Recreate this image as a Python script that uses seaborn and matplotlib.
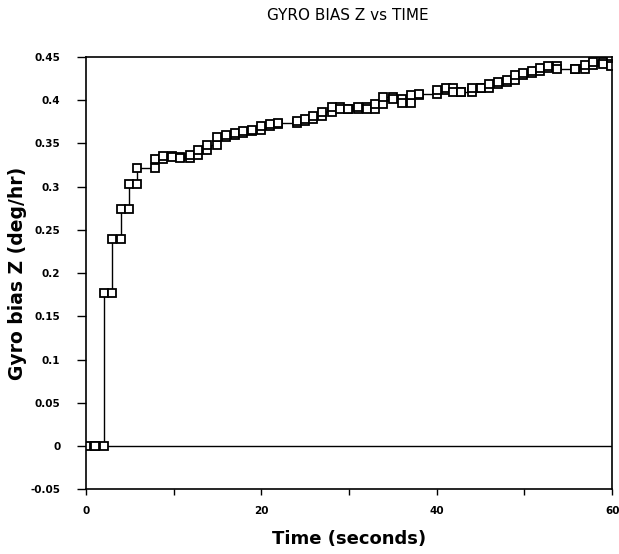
import numpy as np
import pandas as pd
import matplotlib
matplotlib.use("Agg")
import matplotlib.pyplot as plt
import seaborn as sns
from matplotlib.ticker import MultipleLocator

# Sample times (s) and gyro bias values (deg/hr), each value held until next sample
time_s = [0, 1, 2, 3, 4, 4.9, 5.85, 7.9, 8.8, 9.8, 10.7, 11.9, 12.8, 13.8, 14.9,
          16, 17, 17.9, 18.9, 19.9, 21, 21.9, 24, 25, 25.9, 26.9, 28, 29, 29.9,
          31, 32, 33, 33.9, 35, 36, 37, 38, 40, 41, 41.9, 42.8, 44, 45, 46, 47,
          48, 48.9, 49.8, 50.8, 51.8, 52.7, 53.7, 55.8, 56.9, 57.8, 58.9, 59.9]
bias_z = [0, 0, 0.177, 0.239, 0.274, 0.303, 0.322, 0.332, 0.335, 0.334, 0.333,
          0.337, 0.343, 0.348, 0.357, 0.360, 0.362, 0.365, 0.366, 0.370, 0.373,
          0.374, 0.376, 0.378, 0.382, 0.387, 0.392, 0.390, 0.390, 0.392, 0.390,
          0.396, 0.404, 0.402, 0.397, 0.406, 0.407, 0.412, 0.414, 0.410, 0.409,
          0.414, 0.414, 0.419, 0.421, 0.423, 0.429, 0.432, 0.434, 0.437, 0.440,
          0.436, 0.436, 0.441, 0.444, 0.442, 0.440]

title = "GYRO BIAS Z vs TIME"
xlabel = "Time (seconds)"
ylabel = "Gyro bias Z (deg/hr)"
yticks = [-0.05, 0, 0.05, 0.1, 0.15, 0.2, 0.25, 0.3, 0.35, 0.4, 0.45]
ytick_labels = ["-0.05", "0", "0.05", "0.1", "0.15", "0.2", "0.25", "0.3", "0.35", "0.4", "0.45"]
xticks = [0, 20, 40, 60]

# Build staircase corner points (value before and after each sample time)
t = np.array(time_s, dtype=float)
v = np.array(bias_z, dtype=float)
cx = [t[0]]
cy = [v[0]]
for i in range(1, len(t)):
    cx += [t[i], t[i]]
    cy += [v[i - 1], v[i]]
df = pd.DataFrame({"t": cx, "v": cy})

sns.set_theme(style="white")
plt.rcParams["font.family"] = ["DejaVu Sans"]
plt.rcParams["text.color"] = "black"
plt.rcParams["axes.labelcolor"] = "black"

fig = plt.figure(figsize=(6.19, 5.54), dpi=100)
ax = fig.add_axes([0.139, 0.117, 0.850, 0.780])

sns.lineplot(data=df, x="t", y="v", sort=False, estimator=None, ax=ax,
             color="black", linewidth=1.0, marker="s", markersize=5.5,
             markerfacecolor="white", markeredgecolor="black", markeredgewidth=1.3)

ax.axhline(0, color="black", linewidth=1.0, zorder=1)

ax.set_xlim(0, 60)
ax.set_ylim(-0.05, 0.45)
ax.set_xticks(xticks)
ax.xaxis.set_minor_locator(MultipleLocator(10))
ax.set_yticks(yticks)
ax.set_yticklabels(ytick_labels)

for s in ax.spines.values():
    s.set_color("black")
    s.set_linewidth(1.2)

ax.tick_params(axis="y", which="major", direction="out", length=6.5, width=1.0,
               pad=12, labelsize=7.5, left=True, colors="black")
ax.tick_params(axis="x", which="both", direction="out", length=4, width=1.0,
               pad=8, labelsize=7.5, bottom=True, colors="black")
for lab in ax.get_xticklabels() + ax.get_yticklabels():
    lab.set_fontweight("bold")

ax.set_xlabel(xlabel, fontsize=13, fontweight="bold")
ax.set_ylabel(ylabel, fontsize=13.5, fontweight="bold")
ax.yaxis.set_label_coords(-0.112, 0.5)
ax.xaxis.set_label_coords(0.5, -0.095)

fig.text(0.562, 1 - 15 / 554, title, ha="center", va="center", fontsize=11,
         color="black")

fig.savefig("out.png", dpi=100, facecolor="white")
